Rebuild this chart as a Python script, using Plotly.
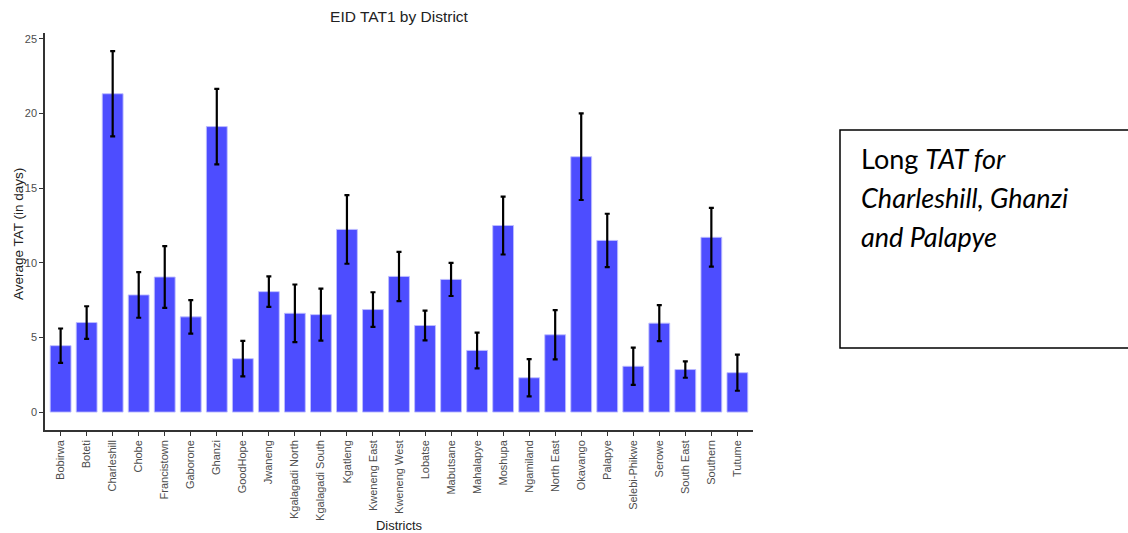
import plotly.graph_objects as go

# Mean turnaround time (days) per district with error half-widths
districts = [
    "Bobirwa", "Boteti", "Charleshill", "Chobe", "Francistown", "Gaborone",
    "Ghanzi", "GoodHope", "Jwaneng", "Kgalagadi North", "Kgalagadi South",
    "Kgatleng", "Kweneng East", "Kweneng West", "Lobatse", "Mabutsane",
    "Mahalapye", "Moshupa", "Ngamiland", "North East", "Okavango", "Palapye",
    "Selebi-Phikwe", "Serowe", "South East", "Southern", "Tutume",
]
avg_tat = [
    4.45, 6.0, 21.33, 7.85, 9.05, 6.38,
    19.13, 3.58, 8.07, 6.62, 6.53,
    12.24, 6.87, 9.09, 5.8, 8.89,
    4.13, 12.5, 2.3, 5.18, 17.11, 11.5,
    3.07, 5.96, 2.85, 11.71, 2.64,
]
err_tat = [
    1.15, 1.09, 2.85, 1.53, 2.07, 1.12,
    2.53, 1.19, 1.02, 1.93, 1.74,
    2.3, 1.16, 1.65, 1.0, 1.11,
    1.2, 1.94, 1.25, 1.65, 2.9, 1.79,
    1.25, 1.21, 0.55, 1.97, 1.21,
]

note_lines = ["Long <i>TAT for</i>", "<i>Charleshill, Ghanzi</i>", "<i>and Palapye</i>"]

# Plot-area pixel geometry (used to place the side note in paper units)
L, R, T, B = 45, 753, 33, 430
W, H = R - L, B - T

fig = go.Figure(
    go.Bar(
        x=districts,
        y=avg_tat,
        width=0.8,
        marker=dict(color="rgb(77,77,255)", line=dict(color="rgba(190,190,255,0.9)", width=1)),
        error_y=dict(type="data", array=err_tat, color="black", thickness=2.2, width=2.5),
    )
)

axis_common = dict(
    showline=True, linecolor="#333333", linewidth=1.5,
    ticks="outside", ticklen=4, tickcolor="#333333", tickwidth=1.2,
    showgrid=False, zeroline=False, automargin=False,
    tickfont=dict(family="Liberation Sans, Arial", size=11, color="#4d4d4d"),
)

fig.update_layout(
    width=1128, height=533,
    margin=dict(l=L, r=1128 - R, t=T, b=533 - B),
    plot_bgcolor="white", paper_bgcolor="white",
    showlegend=False,
    font=dict(family="Liberation Sans, Arial", color="#222222"),
    title=dict(text="EID TAT1 by District", x=0.5, xanchor="center", xref="paper",
               y=1 - 17 / 533, yanchor="middle",
               font=dict(family="Liberation Sans, Arial", size=15.5, color="#222222")),
    xaxis=dict(
        **axis_common, range=[-0.6, 26.6], tickangle=-90,
        title=dict(text="Districts", font=dict(size=13, color="#222222")),
    ),
    yaxis=dict(**axis_common, range=[-1.2, 25.4], tickvals=[0, 5, 10, 15, 20, 25]),
)

# Y-axis title
fig.add_annotation(
    text="Average TAT (in days)", xref="paper", yref="paper",
    x=(18 - L) / W, y=(B - 234) / H, textangle=-90,
    xanchor="center", yanchor="middle", showarrow=False,
    font=dict(family="Liberation Sans, Arial", size=13.5, color="#222222"),
)

# Side note box
fig.add_shape(type="rect", xref="paper", yref="paper",
              x0=(840 - L) / W, x1=(1130 - L) / W,
              y0=(B - 348) / H, y1=(B - 130) / H,
              line=dict(color="black", width=1.5), fillcolor="white")
for i, line in enumerate(note_lines):
    fig.add_annotation(
        text=line, xref="paper", yref="paper",
        x=(859 - L) / W, y=(B - (159 + 38.5 * i)) / H,
        xanchor="left", yanchor="middle", showarrow=False,
        font=dict(family="Lato", size=27, color="black"),
    )

fig.write_html("out.html")
